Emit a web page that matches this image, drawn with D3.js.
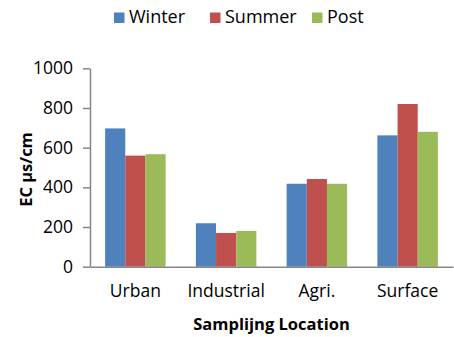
<!DOCTYPE html>
<html><head><meta charset="utf-8">
<script src="https://cdn.jsdelivr.net/npm/d3@7"></script>
<style>
body{margin:0;background:#fff;}
svg{display:block;}
text{font-family:"Open Sans",sans-serif;fill:#000;}
</style></head>
<body><svg id="chart" width="454" height="337"></svg>
<script>
const categories = ["Urban","Industrial","Agri.","Surface"];
const seriesNames = ["Winter","Summer","Post"];
const winter = [697, 219, 418, 662];
const summer = [560, 170, 442, 820];
const post = [567, 180, 418, 680];
const yTicks = [0,200,400,600,800,1000];
const colors = ["#4F81BD","#C0504D","#9BBB59"];
const yTitle = "EC µs/cm";
const xTitle = "Samplijng Location";

const values = [winter, summer, post];
const svg = d3.select("#chart");
const L = 90, R = 453, T = 68.3, B = 266.7;

const x = d3.scaleBand().domain(categories).range([L, R]).paddingInner(0).paddingOuter(0);
const x1 = d3.scaleBand().domain(seriesNames).range([0, x.bandwidth()]).paddingInner(0).paddingOuter(0.75);
const y = d3.scaleLinear().domain([0, 1000]).range([B, T]);

// bars
seriesNames.forEach((s, si) => {
  svg.append("g").selectAll("rect").data(categories).join("rect")
    .attr("x", c => x(c) + x1(s))
    .attr("width", x1.bandwidth())
    .attr("y", (c, i) => y(values[si][i]))
    .attr("height", (c, i) => B - y(values[si][i]))
    .attr("fill", colors[si]);
});

// y axis
const yAxis = svg.append("g").attr("transform", `translate(${L},0)`)
  .call(d3.axisLeft(y).tickValues(yTicks).tickFormat(d3.format("d")).tickSize(7).tickPadding(10).tickSizeOuter(0));
yAxis.select(".domain").attr("stroke", "#868686").attr("stroke-width", 1.5);
yAxis.selectAll(".tick line").attr("stroke", "#868686").attr("stroke-width", 1.5);
yAxis.selectAll(".tick text").attr("font-size", 17.5).attr("font-family", "Open Sans").attr("fill", "#000");

// x axis
const xAxis = svg.append("g").attr("transform", `translate(0,${B})`)
  .call(d3.axisBottom(x).tickSize(0).tickPadding(18).tickSizeOuter(0));
xAxis.select(".domain").attr("stroke", "#868686").attr("stroke-width", 1.5);
xAxis.selectAll(".tick text").attr("font-size", 17.5).attr("font-family", "Open Sans").attr("fill", "#000");

// titles
svg.append("text").attr("x", (L + R) / 2).attr("y", 330)
  .attr("text-anchor", "middle").attr("font-weight", "bold").attr("font-size", 16.5).text(xTitle);
svg.append("text").attr("transform", `translate(32,${(T + B) / 2 + 2}) rotate(-90)`)
  .attr("text-anchor", "middle").attr("font-weight", "bold").attr("font-size", 16.5).text(yTitle);

// legend
const legX = [114, 210, 312];
seriesNames.forEach((s, i) => {
  const g = svg.append("g");
  g.append("rect").attr("x", legX[i]).attr("y", 12.5).attr("width", 10.5).attr("height", 10.5).attr("fill", colors[i]);
  g.append("text").attr("x", legX[i] + 15).attr("y", 23).attr("font-size", 18).text(s);
});
</script></body></html>
